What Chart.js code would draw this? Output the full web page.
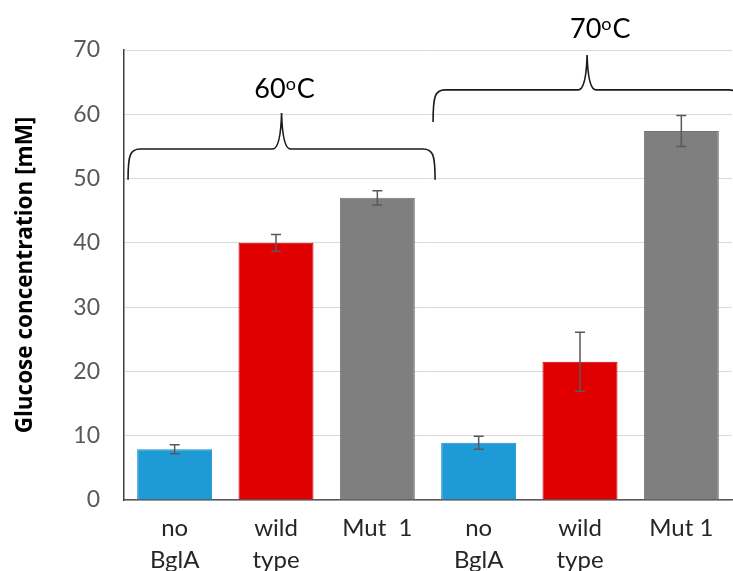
<!DOCTYPE html>
<html>
<head>
<meta charset="utf-8">
<script src="https://cdn.jsdelivr.net/npm/chart.js@4.4.1/dist/chart.umd.min.js"></script>
<style>
  html, body { margin: 0; padding: 0; background: #fff; }
  #wrap { width: 733px; height: 571px; }
</style>
</head>
<body>
<div id="wrap"><canvas id="glucose-chart"></canvas></div>
<script>
  // values
  const categories = [['no', 'BglA'], ['wild', 'type'], 'Mut  1', ['no', 'BglA'], ['wild', 'type'], 'Mut 1'];
  const glucose = [7.9, 40.0, 47.0, 8.9, 21.5, 57.4];
  const glucoseErr = [0.7, 1.3, 1.1, 1.0, 4.6, 2.4];
  const barColors = ['#1e9bd7', '#e00000', '#7f7f7f', '#1e9bd7', '#e00000', '#7f7f7f'];
  const borderColors = ['#1a8cc4', '#c80000', '#737373', '#1a8cc4', '#c80000', '#737373'];
  const groupLabels = ['60', '70'];

  // brace annotations, in axis units (category index / mM)
  const braces = [
    { from: -0.46, to: 2.57, base: 49.8, level: 54.6, peak: 60.2, mid: 1.055, textX: 1.085, textY: 62.5 },
    { from: 2.55, to: 5.59, base: 58.8, level: 63.8, peak: 69.2, mid: 4.07, textX: 4.2, textY: 71.9 }
  ];

  const errorBars = {
    id: 'errorBars',
    afterDatasetsDraw(chart) {
      const y = chart.scales.y;
      const ctx = chart.ctx;
      const meta = chart.getDatasetMeta(0);
      ctx.save();
      ctx.strokeStyle = '#595959';
      ctx.lineWidth = 1.5;
      meta.data.forEach(function (bar, i) {
        const top = y.getPixelForValue(glucose[i] + glucoseErr[i]);
        const bot = y.getPixelForValue(glucose[i] - glucoseErr[i]);
        ctx.beginPath();
        ctx.moveTo(bar.x, top);
        ctx.lineTo(bar.x, bot);
        ctx.moveTo(bar.x - 5, top);
        ctx.lineTo(bar.x + 5, top);
        ctx.moveTo(bar.x - 5, bot);
        ctx.lineTo(bar.x + 5, bot);
        ctx.stroke();
      });
      ctx.restore();
    }
  };

  const bracePlugin = {
    id: 'braces',
    afterDraw(chart) {
      const xs = chart.scales.x, ys = chart.scales.y;
      const ctx = chart.ctx;
      const px = v => xs.getPixelForDecimal((v + 0.5) / categories.length);
      ctx.save();
      ctx.beginPath();
      ctx.rect(0, 0, chart.width, chart.height);
      ctx.clip();
      braces.forEach(function (b, i) {
        const x0 = px(b.from), x1 = px(b.to), xm = px(b.mid);
        const yb = ys.getPixelForValue(b.base);
        const yl = ys.getPixelForValue(b.level);
        const yp = ys.getPixelForValue(b.peak);
        ctx.strokeStyle = '#1a1a1a';
        ctx.lineWidth = 1.6;
        ctx.beginPath();
        ctx.moveTo(x0, yb);
        ctx.bezierCurveTo(x0, yl + 6, x0 + 2, yl, x0 + 12, yl);
        ctx.lineTo(xm - 9, yl);
        ctx.quadraticCurveTo(xm - 1, yl, xm, yp);
        ctx.quadraticCurveTo(xm + 1, yl, xm + 9, yl);
        ctx.lineTo(x1 - 12, yl);
        ctx.bezierCurveTo(x1 - 2, yl, x1, yl + 6, x1, yb);
        ctx.stroke();

        // "60oC" with raised o
        const big = '27px Lato, sans-serif';
        const small = '18px Lato, sans-serif';
        ctx.fillStyle = '#000';
        ctx.textBaseline = 'alphabetic';
        ctx.font = big;
        const wNum = ctx.measureText(groupLabels[i]).width;
        const wC = ctx.measureText('C').width;
        ctx.font = small;
        const wO = ctx.measureText('o').width + 1;
        const total = wNum + wO + wC;
        let tx = px(b.textX) - total / 2;
        const ty = ys.getPixelForValue(b.textY);
        ctx.font = big;
        ctx.fillText(groupLabels[i], tx, ty);
        tx += wNum;
        ctx.font = small;
        ctx.fillText('o', tx, ty - 8);
        tx += wO;
        ctx.font = big;
        ctx.fillText('C', tx, ty);
      });
      ctx.restore();
    }
  };

  new Chart(document.getElementById('glucose-chart'), {
    type: 'bar',
    data: {
      labels: categories,
      datasets: [{
        data: glucose,
        backgroundColor: barColors,
        borderColor: borderColors,
        borderWidth: 1,
        barPercentage: 0.74,
        categoryPercentage: 1.0
      }]
    },
    options: {
      responsive: true,
      maintainAspectRatio: false,
      animation: false,
      layout: { padding: { top: 50, right: 1, left: 0, bottom: 0 } },
      plugins: {
        legend: { display: false },
        tooltip: { enabled: false }
      },
      scales: {
        x: {
          grid: { display: false, drawTicks: false },
          border: { color: '#595959', width: 1.5 },
          ticks: {
            color: '#262626',
            font: { family: 'Lato', size: 24, lineHeight: 1.3 },
            padding: 13,
            maxRotation: 0,
            autoSkip: false
          },
          afterFit: function (scale) { scale.height = 71; }
        },
        y: {
          min: 0,
          max: 70,
          grid: { color: '#d9d9d9', drawTicks: false },
          border: { color: '#404040', width: 1.5 },
          ticks: {
            stepSize: 10,
            color: '#595959',
            font: { family: 'Lato', size: 23 },
            padding: 24
          },
          title: {
            display: true,
            text: 'Glucose concentration [mM]',
            color: '#000',
            font: { family: 'Open Sans', size: 22.5, weight: 'bold' },
            padding: { top: 12, bottom: 0 }
          },
          afterFit: function (scale) { scale.width = 124; }
        }
      }
    },
    plugins: [errorBars, bracePlugin]
  });
</script>
</body>
</html>
